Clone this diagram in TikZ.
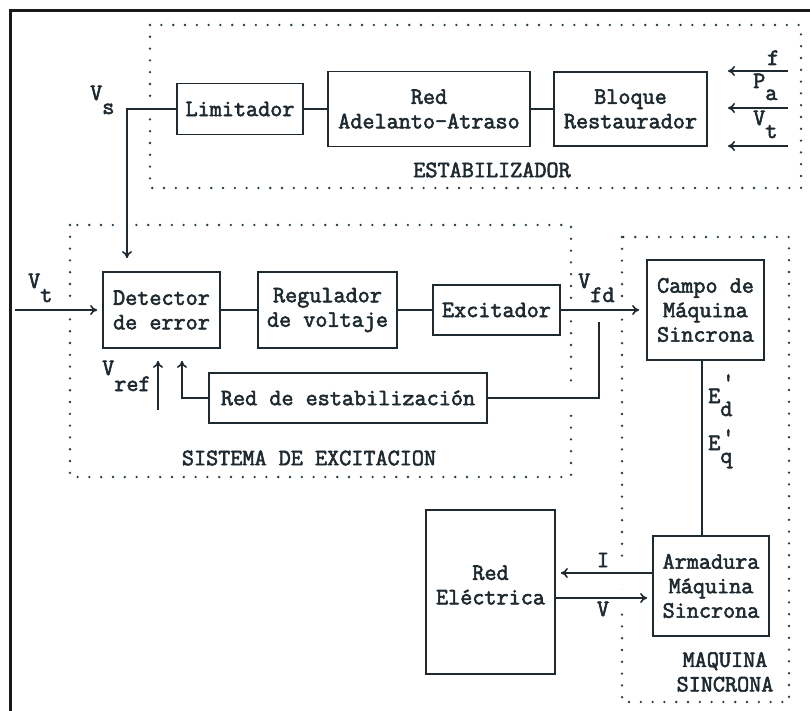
\documentclass[tikz,border=0pt]{standalone}
\usepackage{fontspec}
\newfontfamily\typew{Latin Modern Mono}[FakeBold=2.4]
\usetikzlibrary{arrows.meta,calc}
\definecolor{ink}{RGB}{30,42,48}
\definecolor{dotc}{RGB}{35,60,70}
\pgfdeclarelayer{frames}
\pgfdeclarelayer{cuts}
\pgfsetlayers{frames,cuts,main}
% letter with a full-size lowered index, as a typewriter would set it
\newcommand{\lsub}[3][14pt]{#2\raisebox{-#1}{#3}}
% primed letter with a lowered index
\newcommand{\lprime}[3]{#1\rlap{\kern2pt\raisebox{#2}{'}}\raisebox{-13pt}{#3}}

\begin{document}
\begin{tikzpicture}[x=1pt,y=-1pt,
  every node/.style={font=\fontsize{23.5}{24.5}\selectfont\typew, text=ink},
  block/.style={draw=ink, line width=1.8pt, inner sep=0pt, align=center},
  wire/.style={draw=ink, line width=1.6pt},
  arr/.style={wire, -{To[length=7pt,width=10pt]}},
  zone/.style={draw=dotc, line width=2.6pt, line cap=round, dash pattern=on 0pt off 11.8pt},
  cut/.style={draw=white, line width=16pt},
  frame/.style={draw=black!90, line width=3pt, line join=miter},
  tag/.style={anchor=base west, inner sep=0pt}
]
\useasboundingbox (0,0) rectangle (810,711);

% paper, dotted zones and outer frame
\begin{pgfonlayer}{frames}
  \fill[white] (0,0) rectangle (810,711);
  \draw[zone] (150,25) rectangle (801,188);
  \draw[zone] (70,225) rectangle (571,477);
  \draw[zone] (622,237) rectangle (789,702);
\end{pgfonlayer}
\draw[frame] (10,711) -- (10,11) -- (810,11);

% stabilizer blocks
\node[block, minimum width=126, minimum height=51] (lim) at (240,109) {Limitador};
\node[block, minimum width=202, minimum height=75] (redaa) at (429,109) {Red\\Adelanto-Atraso};
\node[block, minimum width=153, minimum height=74] (bloque) at (630.5,109) {Bloque\\Restaurador};

% excitation system blocks
\node[block, minimum width=117, minimum height=76] (det) at (161.5,310) {Detector\\de error};
\node[block, minimum width=139, minimum height=76] (reg) at (327.5,310) {Regulador\\de voltaje};
\node[block, minimum width=127, minimum height=50] (exc) at (496.5,310) {Excitador};
\node[block, minimum width=278, minimum height=50] (est) at (348,398) {Red de estabilización};

% synchronous machine and network
\node[block, minimum width=117, minimum height=100] (campo) at (705.5,310) {Campo de\\Máquina\\Sincrona};
\node[block, minimum width=116, minimum height=100] (arm) at (711,586) {Armadura\\Máquina\\Sincrona};
\node[block, minimum width=129, minimum height=164] (rede) at (490.5,592) {};
\node[align=center] (redetxt) at (490.5,585) {Red\\Eléctrica};

% free ends of the signal lines
\coordinate (vsk) at (127,109);
\coordinate (vtin) at (15,310);
\coordinate (vref) at (158,410);
\coordinate (fbtop) at (599,322);
\coordinate (fbl) at (182,398);
\coordinate (fin) at (788,71);   \coordinate (fout) at (728,71);
\coordinate (pin) at (788,108);  \coordinate (pout) at (728,108);
\coordinate (vin) at (788,146);  \coordinate (vout) at (728,146);

% openings in the dotted zones where lines pass
\begin{pgfonlayer}{cuts}
  \draw[cut] (lim.west) -- (vsk) -- (vsk |- det.north);
  \draw[cut] (vtin) -- (det.west);
  \draw[cut] (exc.east) -- (campo.west);
  \draw[cut] (fbtop) -- (fbtop |- est.east) -- (est.east);
  \draw[cut] (arm.west |- 0,573) -- (rede.east |- 0,573);
  \draw[cut] (rede.east |- 0,598) -- (arm.west |- 0,598);
\end{pgfonlayer}

% connections
\draw[wire] (lim) -- (redaa);
\draw[wire] (redaa) -- (bloque);
\draw[arr] (fin) -- (fout);
\draw[arr] (pin) -- (pout);
\draw[arr] (vin) -- (vout);
\draw[arr, shorten >=13pt] (lim.west) -- (vsk) -- (vsk |- det.north);
\draw[arr, shorten >=5pt] (vtin) -- (det.west);
\draw[wire] (det) -- (reg);
\draw[wire] (reg) -- (exc);
\draw[arr, shorten >=7pt] (exc) -- (campo);
\draw[arr, shorten >=12pt] (vref) -- (vref |- det.south);
\draw[wire] (fbtop) -- (fbtop |- est.east) -- (est.east);
\draw[arr, shorten >=12pt] (est.west) -- (fbl) -- (fbl |- det.south);
\draw[wire] (campo.south -| 702,0) -- (arm.north -| 702,0);
\draw[arr, shorten >=5pt] (arm.west |- 0,573) -- (rede.east |- 0,573);
\draw[arr, shorten >=5pt] (rede.east |- 0,598) -- (arm.west |- 0,598);

% signal names
\node[tag] (vsl) at (90,100) {\lsub{V}{s}};
\node[tag] (vtl) at (28,288) {\lsub{V}{t}};
\node[tag] (fl) at (767,65) {f};
\node[tag] (pal) at (753,88) {\lsub[12pt]{P}{a}};
\node[tag] (vtrl) at (753,125) {\lsub[13pt]{V}{t}};
\node[tag] (vrefl) at (102,375) {\lsub[16pt]{V}{ref}};
\node[tag] (vfdl) at (578,288) {\lsub{V}{fd}};
\node[tag] (edl) at (708,403) {\lprime{E}{14pt}{d}};
\node[tag] (eql) at (708,450) {\lprime{E}{6pt}{q}};
\node (il) at (603,560) {I};
\node (vl) at (603,609) {V};

% zone titles
\node (estab) at (492,170) {ESTABILIZADOR};
\node (sexc) at (309,458) {SISTEMA DE EXCITACION};
\node[align=center] (msinc) at (725,672) {MAQUINA\\SINCRONA};
\end{tikzpicture}
\end{document}
